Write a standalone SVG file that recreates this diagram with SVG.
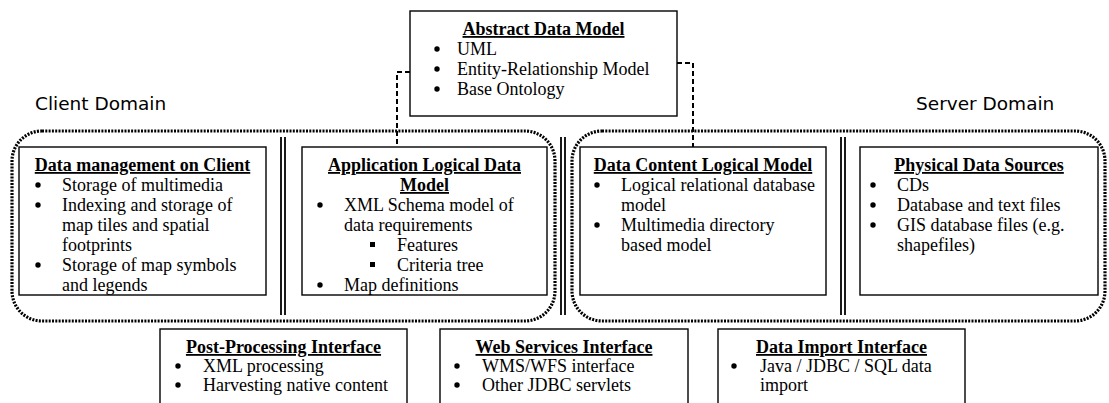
<svg xmlns="http://www.w3.org/2000/svg" width="1109" height="403" viewBox="0 0 1109 403">
<style>
.box{fill:#fff;stroke:#000;stroke-width:1.4}
.dom{fill:none;stroke:#000;stroke-width:3.2;stroke-dasharray:2 1.3}
.dash{fill:none;stroke:#000;stroke-width:2;stroke-dasharray:5 3}
.sep{stroke:#000;stroke-width:1.8}
.sq,.dot{fill:#000}
text{font-family:"Liberation Serif","Times New Roman",serif;font-size:18px;fill:#000}
.t{font-weight:bold;text-decoration:underline;text-anchor:middle}
.lab{font-family:"DejaVu Sans",Verdana,sans-serif;font-size:18.5px}
</style>

<g id="connectors">
  <path class="dash" d="M410,72 H397 V147"/>
  <path class="dash" d="M677,63 H693 V147"/>
  <g id="separators">
    <line class="sep" x1="281" y1="137" x2="281" y2="315"/>
    <line class="sep" x1="285" y1="137" x2="285" y2="315"/>
    <line class="sep" x1="561" y1="137" x2="561" y2="315"/>
    <line class="sep" x1="565" y1="137" x2="565" y2="315"/>
    <line class="sep" x1="841" y1="137" x2="841" y2="315"/>
    <line class="sep" x1="845" y1="137" x2="845" y2="315"/>
  </g>
</g>

<g id="client-domain">
  <rect class="dom" x="12" y="131" width="543" height="190" rx="30" ry="30"/>
  <text class="lab" x="35" y="110">Client Domain</text>
</g>
<g id="server-domain">
  <rect class="dom" x="572" y="131" width="533" height="190" rx="30" ry="30"/>
  <text class="lab" x="916" y="110">Server Domain</text>
</g>

<g id="abstract-data-model">
  <rect class="box" x="410" y="11" width="267" height="105"/>
  <text class="t" x="543.5" y="35">Abstract Data Model</text>
  <circle class="dot" cx="437" cy="49" r="2.7"/><text x="457" y="55">UML</text>
  <circle class="dot" cx="437" cy="69" r="2.7"/><text x="457" y="75">Entity-Relationship Model</text>
  <circle class="dot" cx="437" cy="89" r="2.7"/><text x="457" y="95">Base Ontology</text>
</g>

<g id="data-management-client">
  <rect class="box" x="19" y="147" width="247" height="148"/>
  <text class="t" x="142.5" y="171">Data management on Client</text>
  <circle class="dot" cx="38" cy="185" r="2.7"/><text x="62" y="191">Storage of multimedia</text>
  <circle class="dot" cx="38" cy="205" r="2.7"/><text x="62" y="211">Indexing and storage of</text>
  <text x="62" y="231">map tiles and spatial</text>
  <text x="62" y="251">footprints</text>
  <circle class="dot" cx="38" cy="265" r="2.7"/><text x="62" y="271">Storage of map symbols</text>
  <text x="62" y="291">and legends</text>
</g>

<g id="application-logical-data-model">
  <rect class="box" x="302" y="147" width="245" height="148"/>
  <text class="t" x="424.5" y="171">Application Logical Data</text>
  <text class="t" x="424.5" y="191">Model</text>
  <circle class="dot" cx="320" cy="205" r="2.7"/><text x="344" y="211">XML Schema model of</text>
  <text x="344" y="231">data requirements</text>
  <rect class="sq" x="370" y="242" width="5" height="5"/><text x="397" y="251">Features</text>
  <rect class="sq" x="370" y="262" width="5" height="5"/><text x="397" y="271">Criteria tree</text>
  <circle class="dot" cx="320" cy="285" r="2.7"/><text x="344" y="291">Map definitions</text>
</g>

<g id="data-content-logical-model">
  <rect class="box" x="580" y="147" width="246" height="148"/>
  <text class="t" x="703" y="171">Data Content Logical Model</text>
  <circle class="dot" cx="597" cy="185" r="2.7"/><text x="621" y="191">Logical relational database</text>
  <text x="621" y="211">model</text>
  <circle class="dot" cx="597" cy="225" r="2.7"/><text x="621" y="231">Multimedia directory</text>
  <text x="621" y="251">based model</text>
</g>

<g id="physical-data-sources">
  <rect class="box" x="860" y="147" width="238" height="148"/>
  <text class="t" x="979" y="171">Physical Data Sources</text>
  <circle class="dot" cx="873" cy="185" r="2.7"/><text x="897" y="191">CDs</text>
  <circle class="dot" cx="873" cy="205" r="2.7"/><text x="897" y="211">Database and text files</text>
  <circle class="dot" cx="873" cy="225" r="2.7"/><text x="897" y="231">GIS database files (e.g.</text>
  <text x="897" y="251">shapefiles)</text>
</g>

<g id="post-processing-interface">
  <rect class="box" x="160" y="329" width="247" height="80"/>
  <text class="t" x="283.5" y="353">Post-Processing Interface</text>
  <circle class="dot" cx="178" cy="366" r="2.7"/><text x="203" y="372">XML processing</text>
  <circle class="dot" cx="178" cy="385" r="2.7"/><text x="203" y="391">Harvesting native content</text>
</g>

<g id="web-services-interface">
  <rect class="box" x="440" y="329" width="248" height="80"/>
  <text class="t" x="564" y="353">Web Services Interface</text>
  <circle class="dot" cx="457" cy="366" r="2.7"/><text x="482" y="372">WMS/WFS interface</text>
  <circle class="dot" cx="457" cy="385" r="2.7"/><text x="482" y="391">Other JDBC servlets</text>
</g>

<g id="data-import-interface">
  <rect class="box" x="718" y="329" width="247" height="80"/>
  <text class="t" x="841.5" y="353">Data Import Interface</text>
  <circle class="dot" cx="734" cy="366" r="2.7"/><text x="760" y="372">Java / JDBC / SQL data</text>
  <text x="760" y="391">import</text>
</g>
</svg>
